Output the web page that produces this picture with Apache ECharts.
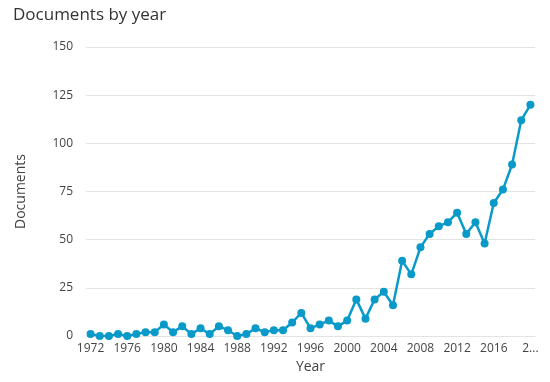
<!DOCTYPE html>
<html><head><meta charset="utf-8">
<script src="https://cdn.jsdelivr.net/npm/echarts@6/dist/echarts.min.js"></script>
<style>html,body{margin:0;padding:0;background:#fff}#c{width:550px;height:382px}</style>
</head><body><div id="c"></div>
<script>
var years = [];
for (var y = 1972; y <= 2020; y++) years.push(String(y));
var documents = [1,0,0,1,0,1,2,2,6,2,5,1,4,1,5,3,0,1,4,2,3,3,7,12,4,6,8,5,8,19,9,19,23,16,39,32,46,53,57,59,64,53,59,48,69,76,89,112,120];
var yTicks = [0,25,50,75,100,125,150];
var chart = echarts.init(document.getElementById('c'));
var font = 'Open Sans';
chart.setOption({
  animation:false,
  title:{text:'Documents by year',left:8,top:2,textStyle:{fontFamily:font,fontSize:17,fontWeight:'normal',color:'#333'}},
  grid:{left:86,right:15,top:47,bottom:46},
  xAxis:{type:'category',data:years,boundaryGap:true,name:'Year',nameLocation:'middle',nameGap:24,
    nameTextStyle:{fontFamily:font,fontSize:14,color:'#444'},
    axisLine:{show:true,lineStyle:{color:'#e3e3e3'}},axisTick:{show:false},
    axisLabel:{interval:3,margin:7,fontFamily:font,fontSize:12,color:'#444',
      formatter:function(v){return v==='2020'?'2...':v;}}},
  yAxis:{type:'value',min:yTicks[0],max:yTicks[yTicks.length-1],interval:25,name:'Documents',nameLocation:'middle',nameGap:58,
    nameTextStyle:{fontFamily:font,fontSize:14,color:'#444'},
    axisLine:{show:false},axisTick:{show:false},
    axisLabel:{margin:13,fontFamily:font,fontSize:12,color:'#444'},
    splitLine:{lineStyle:{color:'#e3e3e3'}}},
  series:[{type:'line',data:documents,symbol:'circle',symbolSize:8,showSymbol:true,showAllSymbol:true,
    lineStyle:{color:'#0a9ac9',width:2.5},itemStyle:{color:'#0a9ac9'}}]
});
</script></body></html>
